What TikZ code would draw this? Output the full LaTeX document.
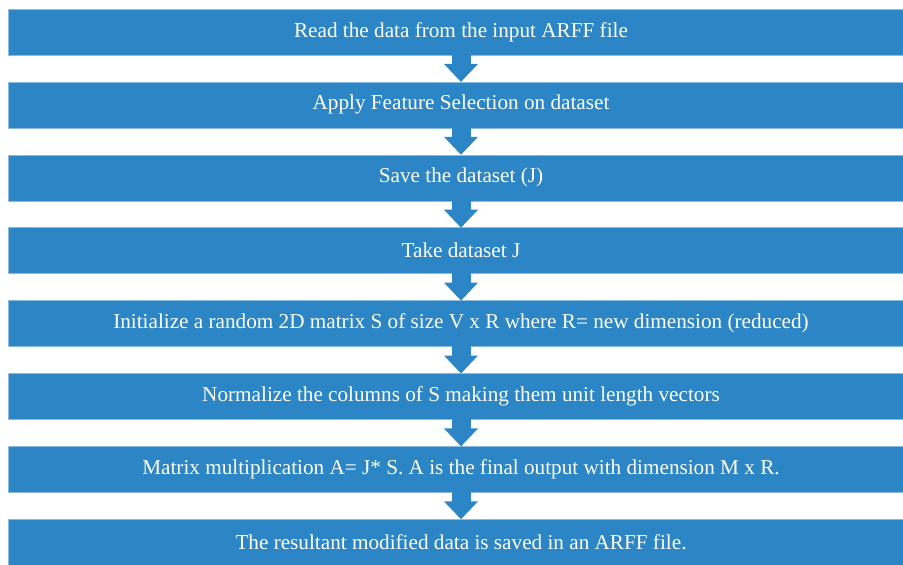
\documentclass[tikz,border=0pt]{standalone}
\usepackage{fontspec}
\setmainfont{Liberation Serif}
\usepackage{xcolor,tikz}
\usetikzlibrary{arrows.meta,positioning}
\definecolor{stepblue}{RGB}{44,133,196}

\begin{document}
\begin{tikzpicture}[x=1pt,y=1pt,node distance=26.9pt,box/.style={fill=stepblue,draw=stepblue!55!white,line width=0.6pt,text=white,align=center,minimum width=906pt,minimum height=46pt,inner sep=0pt,outer sep=0pt,font=\fontsize{21.2}{24}\selectfont},arr/.style={-{Triangle[width=33pt,length=18pt]},line width=19pt,draw=stepblue,shorten <=-0.3pt}]
\useasboundingbox (0,0) rectangle (903,-565);
\node[box] (read) at (461,-32) {Read the data from the input ARFF file};
\node[box,below=of read] (fsel) {Apply Feature Selection on dataset};
\node[box,below=of fsel] (save) {Save the dataset (J)};
\node[box,below=of save] (take) {Take dataset J};
\node[box,below=of take] (init) {Initialize a random 2D matrix S of size V x R where R= new dimension (reduced)};
\node[box,below=of init] (norm) {Normalize the columns of S making them unit length vectors};
\node[box,below=of norm] (mult) {Matrix multiplication A= J* S. A is the final output with dimension M x R.};
\node[box,below=of mult] (out) {The resultant modified data is saved in an ARFF file.};
\foreach \a/\b in {read/fsel,fsel/save,save/take,take/init,init/norm,norm/mult,mult/out}
  \draw[arr] (\a) -- (\b);
\end{tikzpicture}
\end{document}
